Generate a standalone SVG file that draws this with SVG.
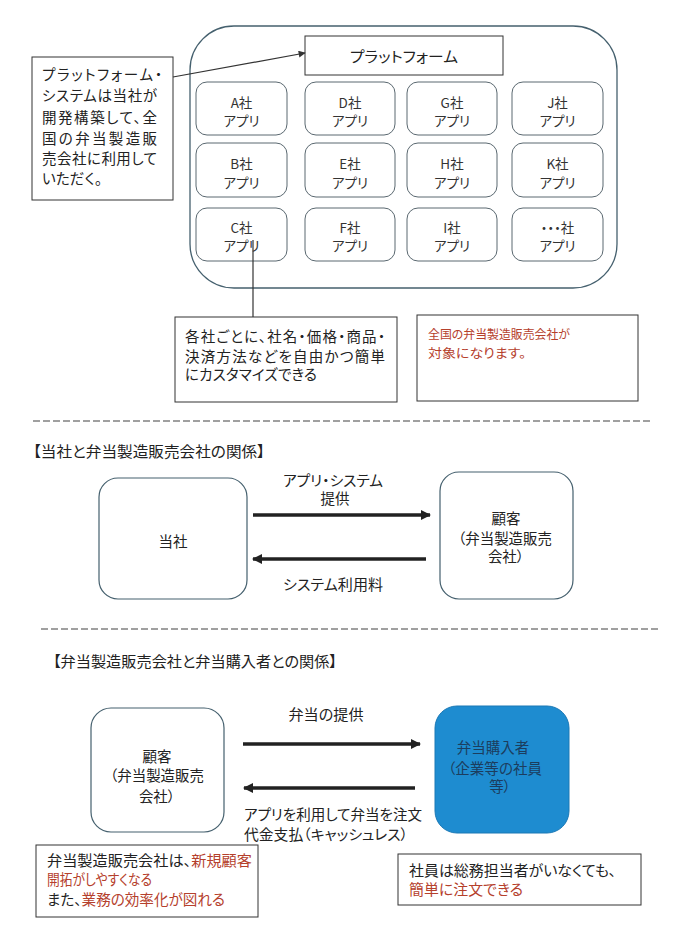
<svg xmlns="http://www.w3.org/2000/svg" width="678" height="946" viewBox="0 0 678 946">
<style>
text{font-family:"Noto Sans CJK JP","Noto Sans",sans-serif;fill:#222;font-size:14.5px;dominant-baseline:central;font-feature-settings:"palt"}
.c{text-anchor:middle}
.app{font-size:13.5px;fill:#333}
.red{fill:#b5402c}
.box{fill:#fff;stroke:#333;stroke-width:1}
.appbox{fill:#fff;stroke:#5a6870;stroke-width:1}
.rbox{fill:#fff;stroke:#45606e;stroke-width:1.2}
.sep{stroke:#a0a0a0;stroke-width:2.2;stroke-dasharray:7 3}
.thick{stroke:#222;stroke-width:3.5;fill:none}
.blue{fill:#1c3d5e}
</style>
<defs>
<marker id="ah" viewBox="0 0 10 10" refX="9" refY="5" markerUnits="userSpaceOnUse" markerWidth="11" markerHeight="10" orient="auto">
<path d="M0,0 L10,5 L0,10 z" fill="#222"/>
</marker>
<marker id="ahs" viewBox="0 0 10 10" refX="9" refY="5" markerUnits="userSpaceOnUse" markerWidth="9" markerHeight="7" orient="auto">
<path d="M0,0 L10,5 L0,10 z" fill="#333"/>
</marker>
</defs>
<rect width="678" height="946" fill="#fff"/>

<g id="platform-area"><rect x="190" y="26" width="427" height="262" rx="44" fill="none" stroke="#45606e" stroke-width="1.3"/></g>
<g id="platform"><rect class="box" x="305" y="36" width="198" height="39"/><text class="c" x="404" y="55.5" textLength="108" lengthAdjust="spacingAndGlyphs">プラットフォーム</text></g>

<g id="app-a"><rect class="appbox" x="196" y="82" width="91" height="53" rx="11"/><text class="c app" x="241.5" y="102">A社</text><text class="c app" x="241.5" y="120">アプリ</text></g>
<g id="app-d"><rect class="appbox" x="305" y="82" width="90" height="53" rx="11"/><text class="c app" x="350" y="102">D社</text><text class="c app" x="350" y="120">アプリ</text></g>
<g id="app-g"><rect class="appbox" x="407" y="82" width="90" height="53" rx="11"/><text class="c app" x="452" y="102">G社</text><text class="c app" x="452" y="120">アプリ</text></g>
<g id="app-j"><rect class="appbox" x="512" y="82" width="91" height="53" rx="11"/><text class="c app" x="557.5" y="102">J社</text><text class="c app" x="557.5" y="120">アプリ</text></g>

<g id="app-b"><rect class="appbox" x="196" y="143" width="91" height="54" rx="11"/><text class="c app" x="241.5" y="163">B社</text><text class="c app" x="241.5" y="182">アプリ</text></g>
<g id="app-e"><rect class="appbox" x="305" y="143" width="90" height="54" rx="11"/><text class="c app" x="350" y="163">E社</text><text class="c app" x="350" y="182">アプリ</text></g>
<g id="app-h"><rect class="appbox" x="407" y="143" width="90" height="54" rx="11"/><text class="c app" x="452" y="163">H社</text><text class="c app" x="452" y="182">アプリ</text></g>
<g id="app-k"><rect class="appbox" x="512" y="143" width="91" height="54" rx="11"/><text class="c app" x="557.5" y="163">K社</text><text class="c app" x="557.5" y="182">アプリ</text></g>

<g id="app-c"><rect class="appbox" x="196" y="208" width="91" height="53" rx="11"/><text class="c app" x="241.5" y="227">C社</text><text class="c app" x="241.5" y="245">アプリ</text></g>
<g id="app-f"><rect class="appbox" x="305" y="208" width="90" height="53" rx="11"/><text class="c app" x="350" y="227">F社</text><text class="c app" x="350" y="245">アプリ</text></g>
<g id="app-i"><rect class="appbox" x="407" y="208" width="90" height="53" rx="11"/><text class="c app" x="452" y="227">I社</text><text class="c app" x="452" y="245">アプリ</text></g>
<g id="app-etc"><rect class="appbox" x="512" y="208" width="91" height="53" rx="11"/><text class="c app" x="557.5" y="227">・・・社</text><text class="c app" x="557.5" y="245">アプリ</text></g>

<g id="note-platform">
<rect class="box" x="32" y="57" width="141" height="143"/>
<text x="42" y="73" textLength="120" lengthAdjust="spacing">プラットフォーム・</text>
<text x="42" y="94.5" textLength="115" lengthAdjust="spacing">システムは当社が</text>
<text x="42" y="116" textLength="115" lengthAdjust="spacing">開発構築して、全</text>
<text x="42" y="137" textLength="115" lengthAdjust="spacing">国の弁当製造販</text>
<text x="42" y="157" textLength="115" lengthAdjust="spacing">売会社に利用して</text>
<text x="42" y="177" textLength="60" lengthAdjust="spacing">いただく。</text>
</g>

<g id="note-custom">
<rect class="box" x="175" y="317" width="222" height="85"/>
<text x="185" y="335" textLength="200" lengthAdjust="spacing">各社ごとに、社名・価格・商品・</text>
<text x="185" y="355" textLength="200" lengthAdjust="spacing">決済方法などを自由かつ簡単</text>
<text x="185" y="373" textLength="132" lengthAdjust="spacing">にカスタマイズできる</text>
</g>

<g id="note-target">
<rect class="box" x="417" y="315" width="221" height="86"/>
<text class="red" x="428" y="333" style="font-size:12.5px" textLength="142" lengthAdjust="spacingAndGlyphs">全国の弁当製造販売会社が</text>
<text class="red" x="428" y="352" style="font-size:12.5px" textLength="98" lengthAdjust="spacingAndGlyphs">対象になります。</text>
</g>

<g id="separators">
<line class="sep" x1="33" y1="421" x2="652" y2="421"/>
<line class="sep" x1="41" y1="629" x2="660" y2="629"/>
</g>

<text id="title-1" x="33" y="450" style="font-size:15px" textLength="232" lengthAdjust="spacingAndGlyphs">【当社と弁当製造販売会社の関係】</text>

<g id="tousha"><rect class="rbox" x="99" y="478" width="148" height="121" rx="19"/><text class="c" x="173" y="540">当社</text></g>
<g id="kokyaku-1"><rect class="rbox" x="440" y="472" width="133" height="127" rx="19"/>
<text class="c" x="506" y="517">顧客</text><text class="c" x="505" y="537" textLength="94" lengthAdjust="spacingAndGlyphs">（弁当製造販売</text><text class="c" x="506" y="555">会社）</text></g>

<text class="c" x="333" y="479" textLength="100" lengthAdjust="spacingAndGlyphs">アプリ・システム</text>
<text class="c" x="335" y="497">提供</text>
<text class="c" x="333" y="583" textLength="100" lengthAdjust="spacingAndGlyphs">システム利用料</text>

<text id="title-2" x="53" y="660" style="font-size:15px" textLength="284" lengthAdjust="spacingAndGlyphs">【弁当製造販売会社と弁当購入者との関係】</text>

<g id="kokyaku-2"><rect class="rbox" x="91" y="708" width="133" height="124" rx="20"/>
<text class="c" x="157" y="755">顧客</text><text class="c" x="157" y="774" textLength="94" lengthAdjust="spacingAndGlyphs">（弁当製造販売</text><text class="c" x="157" y="795">会社）</text></g>
<g id="kounyusha"><rect x="435" y="706" width="134" height="127" rx="22" fill="#1e8cd0" stroke="#1a78b5"/>
<text class="c blue" x="493" y="746">弁当購入者</text><text class="c blue" x="495" y="767" textLength="94" lengthAdjust="spacingAndGlyphs">（企業等の社員</text><text class="c blue" x="500" y="785">等）</text></g>

<text class="c" x="326" y="713" textLength="75" lengthAdjust="spacingAndGlyphs">弁当の提供</text>
<text x="244" y="813" textLength="178" lengthAdjust="spacingAndGlyphs">アプリを利用して弁当を注文</text>
<text x="244" y="833" textLength="164" lengthAdjust="spacingAndGlyphs">代金支払（キャッシュレス）</text>

<g id="note-seller">
<rect class="box" x="36" y="845" width="222" height="72"/>
<text x="47" y="859" textLength="205" lengthAdjust="spacingAndGlyphs">弁当製造販売会社は、<tspan class="red">新規顧客</tspan></text>
<text x="47" y="878" class="red" textLength="105" lengthAdjust="spacingAndGlyphs">開拓がしやすくなる</text>
<text x="47" y="898" textLength="178" lengthAdjust="spacingAndGlyphs">また、<tspan class="red">業務の効率化が図れる</tspan></text>
</g>

<g id="note-employee">
<rect class="box" x="398" y="854" width="243" height="51"/>
<text x="409" y="869" textLength="207" lengthAdjust="spacingAndGlyphs">社員は総務担当者がいなくても、</text>
<text x="409" y="888" class="red" textLength="114" lengthAdjust="spacingAndGlyphs">簡単に注文できる</text>
</g>

<g id="connectors">
<line x1="173" y1="77" x2="305" y2="53" stroke="#333" stroke-width="1.2" marker-end="url(#ahs)"/>
<line x1="253" y1="240" x2="253" y2="317" stroke="#333" stroke-width="1.2"/>
<line class="thick" x1="253" y1="515" x2="430" y2="515" marker-end="url(#ah)"/>
<line class="thick" x1="426" y1="559" x2="253" y2="559" marker-end="url(#ah)"/>
<line class="thick" x1="243" y1="744" x2="420" y2="744" marker-end="url(#ah)"/>
<line class="thick" x1="415" y1="788" x2="244" y2="788" marker-end="url(#ah)"/>
</g>
</svg>
